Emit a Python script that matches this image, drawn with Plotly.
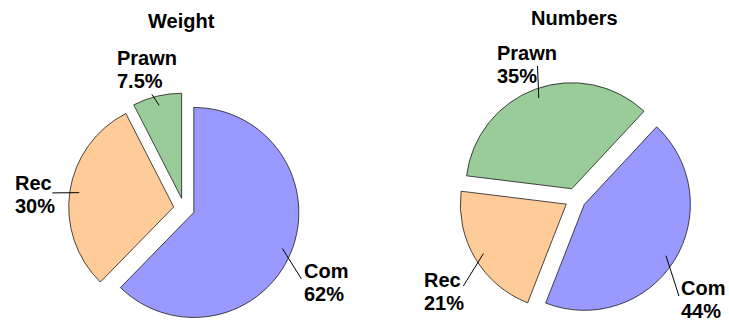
import math
import plotly.graph_objects as go

# ---------------- data ----------------
categories = ["Com", "Rec", "Prawn"]
weight_values = [62, 30, 7.5]
numbers_values = [44, 21, 35]
chart_titles = ["Weight", "Numbers"]
colors = ["#9999FF", "#FFCC99", "#99CC99"]

# ---------------- layout constants ----------------
W, H = 729, 324
PULL = 0.1
FONT = dict(family="Liberation Sans, Arial, sans-serif", size=20, color="black", weight=700)
LINE_GAP = 23

# pie geometry in pixels: centre x, centre y, radius, rotation
PIES = [
    dict(cx=184.1, cy=208.5, r=105.0, rot=0, title_x=181.3, title_base=28.3),
    dict(cx=575.4, cy=198.7, r=106.0, rot=43, title_x=574.7, title_base=25.0),
]
# leader outer end: (radius factor, angle offset from slice middle, deg)
LEADER_OUT = [
    [(1.204, 9.5), (1.164, -2.0), (1.03, -2.4)],
    [(1.243, 11.9), (1.241, -7.7), (1.202, 4.4)],
]
# text block (left x, first baseline) relative to leader outer end, px
TEXT_OFF = [
    [(1.2, -1.0), (-38.4, -3.0), (-36.0, -29.0)],
    [(1.5, -1.0), (-40.0, 0.7), (-42.0, -6.0)],
]


def px(x, y):
    return x / W, 1 - y / H


fig = go.Figure()
shapes = []
annotations = []

for k, (vals, title) in enumerate(zip([weight_values, numbers_values], chart_titles)):
    g = PIES[k]
    half = g["r"] * (1 + PULL)
    x0, y0 = px(g["cx"] - half, g["cy"] + half)
    x1, y1 = px(g["cx"] + half, g["cy"] - half)
    fig.add_trace(go.Pie(
        labels=categories, values=vals, sort=False, direction="clockwise",
        rotation=g["rot"], pull=[PULL] * len(vals), textinfo="none",
        hoverinfo="label+percent", showlegend=False,
        marker=dict(colors=colors, line=dict(color="#1a1a1a", width=0.8)),
        domain=dict(x=[max(0, x0), min(1, x1)], y=[max(0, y0), min(1, y1)]),
    ))
    # title
    tx, ty = px(g["title_x"], g["title_base"] - 7)
    annotations.append(dict(text=title, x=tx, y=ty, xref="paper", yref="paper",
                            xanchor="center", yanchor="middle", showarrow=False, font=FONT))
    total = sum(vals)
    start = g["rot"]
    for i, v in enumerate(vals):
        span = 360 * v / total
        mid = start + span / 2
        start += span
        a = math.radians(mid)
        pcx = g["cx"] + PULL * g["r"] * math.sin(a)
        pcy = g["cy"] - PULL * g["r"] * math.cos(a)
        ix = pcx + 0.91 * g["r"] * math.sin(a)
        iy = pcy - 0.91 * g["r"] * math.cos(a)
        rf, dang = LEADER_OUT[k][i]
        b = math.radians(mid + dang)
        ox = pcx + rf * g["r"] * math.sin(b)
        oy = pcy - rf * g["r"] * math.cos(b)
        p0 = px(ix, iy)
        p1 = px(ox, oy)
        shapes.append(dict(type="line", xref="paper", yref="paper",
                           x0=p0[0], y0=p0[1], x1=p1[0], y1=p1[1],
                           line=dict(color="black", width=1)))
        dx, dy = TEXT_OFF[k][i]
        left = ox + dx
        base = oy + dy
        lines = [categories[i], f"{v:g}%"]
        for j, t in enumerate(lines):
            lx, ly = px(left - 1, base + j * LINE_GAP - 7)
            annotations.append(dict(text=t, x=lx, y=ly, xref="paper", yref="paper",
                                    xanchor="left", yanchor="middle", showarrow=False,
                                    font=FONT))

fig.update_layout(
    width=W, height=H,
    margin=dict(l=0, r=0, t=0, b=0, pad=0),
    paper_bgcolor="white", plot_bgcolor="white",
    shapes=shapes, annotations=annotations,
)
fig.write_html("out.html", config={"displayModeBar": False},
               post_script="document.body.style.margin='0';document.body.style.overflow='hidden';")
